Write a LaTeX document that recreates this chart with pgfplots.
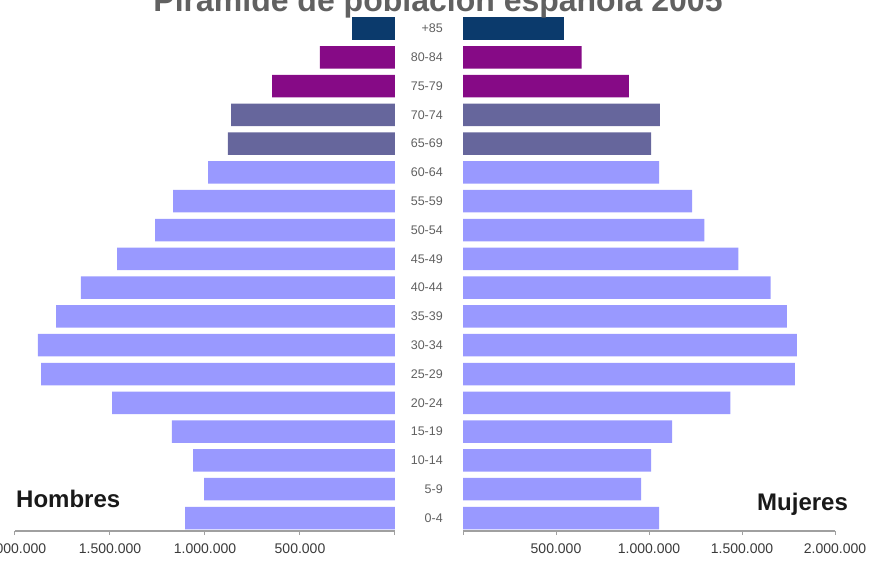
\documentclass[border=0pt]{standalone}
\usepackage{pgfplots}
\pgfplotsset{compat=1.18}
\usepackage{pgfplotstable}
\usepackage{fontspec}
\setmainfont{Liberation Sans}
\definecolor{c85}{HTML}{0B3A6C}
\definecolor{c80}{HTML}{860A86}
\definecolor{c70}{HTML}{66669C}
\definecolor{cbase}{HTML}{9999FF}
\definecolor{ticktext}{HTML}{3A3A3A}
\definecolor{axisgray}{HTML}{A0A0A0}

% age index, hombres, mujeres
\pgfplotstableread{
age h m
0 1105000 1054000
1 1005000 957000
2 1063000 1011000
3 1174000 1124000
4 1489000 1438000
5 1863000 1784000
6 1879000 1795000
7 1784000 1741000
8 1653000 1654000
9 1463000 1481000
10 1263000 1297000
11 1168000 1232000
12 984000 1054000
13 879000 1011000
14 863000 1059000
15 647000 892000
16 395000 638000
17 225000 541000
}\pyrdata

\pgfplotsset{pyr/.style={
  xbar, bar width=22.5pt, scale only axis, height=515.5pt,
  ymin=-0.45, ymax=17.45, xmin=0, xmax=2000000,
  axis x line*=bottom, axis y line*=left,
  y axis line style={draw=none},
  x axis line style={draw=axisgray, line width=1.2pt, -},
  xtick={0,500000,1000000,1500000,2000000},
  xticklabels={,500.000,1.000.000,1.500.000,2.000.000},
  tick align=outside, major tick length=4pt,
  x tick style={draw=axisgray, line width=1pt},
  ytick={0,...,17}, y tick style={draw=none},
  xticklabel style={font=\fontsize{14}{14}\selectfont, text=ticktext, yshift=-5pt},
  scaled x ticks=false, clip=false,
  every axis plot/.append style={draw=none, bar shift=0pt},
}}

\begin{document}
\begin{tikzpicture}
\useasboundingbox (0pt,0pt) rectangle (877pt,562pt);
% left: Hombres
\begin{axis}[pyr, at={(15pt,31pt)}, anchor=south west, width=380pt,
  x dir=reverse, yticklabels={}]
\addplot[fill=cbase, bar shift=0pt, restrict y to domain=-0.5:12.5] table[x=h,y=age] {\pyrdata};
\addplot[fill=c70, bar shift=0pt, restrict y to domain=12.5:14.5] table[x=h,y=age] {\pyrdata};
\addplot[fill=c80, bar shift=0pt, restrict y to domain=14.5:16.5] table[x=h,y=age] {\pyrdata};
\addplot[fill=c85, bar shift=0pt, restrict y to domain=16.5:17.5] table[x=h,y=age] {\pyrdata};
\end{axis}
% right: Mujeres
\begin{axis}[pyr, at={(463pt,31pt)}, anchor=south west, width=372pt,
  yticklabels={0-4,5-9,10-14,15-19,20-24,25-29,30-34,35-39,40-44,45-49,50-54,55-59,60-64,65-69,70-74,75-79,80-84,+85},
  yticklabel style={font=\fontsize{12.5}{12.5}\selectfont, text=black!62, anchor=east, inner sep=0pt, xshift=-16pt}]
\addplot[fill=cbase, bar shift=0pt, restrict y to domain=-0.5:12.5] table[x=m,y=age] {\pyrdata};
\addplot[fill=c70, bar shift=0pt, restrict y to domain=12.5:14.5] table[x=m,y=age] {\pyrdata};
\addplot[fill=c80, bar shift=0pt, restrict y to domain=14.5:16.5] table[x=m,y=age] {\pyrdata};
\addplot[fill=c85, bar shift=0pt, restrict y to domain=16.5:17.5] table[x=m,y=age] {\pyrdata};
\end{axis}
\node[anchor=base, font=\bfseries\fontsize{32}{32}\selectfont, text=black!62, inner sep=0pt] at (438pt,550pt) {Pirámide de población española 2005};
\node[anchor=base west, font=\bfseries\fontsize{24}{24}\selectfont, text=black!90, inner sep=0pt] at (16pt,55pt) {Hombres};
\node[anchor=base west, font=\bfseries\fontsize{24}{24}\selectfont, text=black!90, inner sep=0pt] at (757pt,52pt) {Mujeres};
\end{tikzpicture}
\end{document}
